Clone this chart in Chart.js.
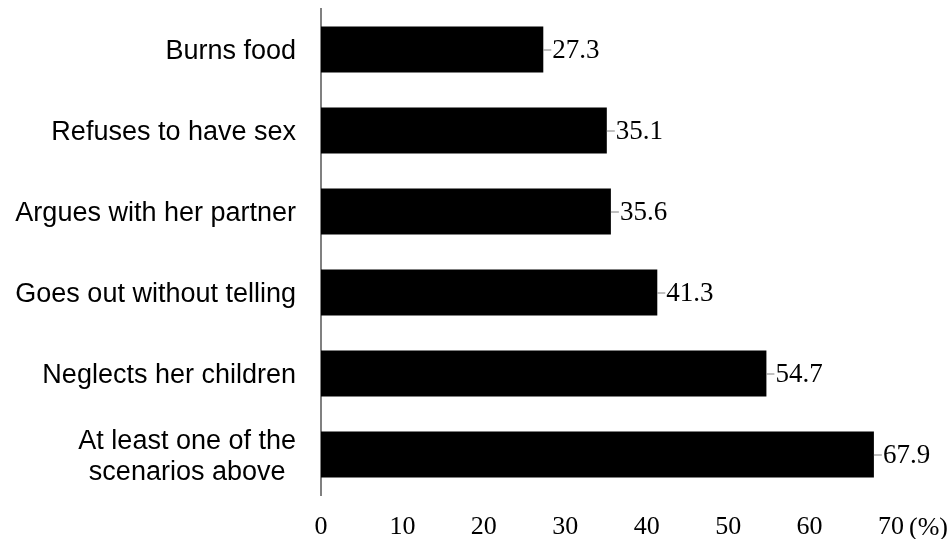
<!DOCTYPE html>
<html>
<head>
<meta charset="utf-8">
<script src="https://cdn.jsdelivr.net/npm/chart.js@4/dist/chart.umd.min.js"></script>
<style>
  html, body { margin: 0; padding: 0; background: #ffffff; }
  #wrap { width: 951px; height: 539px; }
</style>
</head>
<body>
<div id="wrap"><canvas id="c" width="951" height="539"></canvas></div>
<script>
const categories = [
  "Burns food",
  "Refuses to have sex",
  "Argues with her partner",
  "Goes out without telling",
  "Neglects her children",
  ["At least one of the", "scenarios above"]
];
const percentages = [27.3, 35.1, 35.6, 41.3, 54.7, 67.9];
const xTickValues = [0, 10, 20, 30, 40, 50, 60, 70];
const unitLabel = "(%)";

const yLabelPlugin = {
  id: 'yLabels',
  afterDraw(chart) {
    const ctx = chart.ctx;
    const ys = chart.scales.y;
    ctx.save();
    ctx.font = '27px "Liberation Sans", Arial, sans-serif';
    ctx.fillStyle = '#000000';
    ctx.textAlign = 'center';
    ctx.textBaseline = 'alphabetic';
    const rightEdge = 296;
    const lh = 31;
    const cap = 27 * 0.716;
    categories.forEach((lab, i) => {
      const lines = Array.isArray(lab) ? lab : [lab];
      const y = ys.getPixelForValue(i);
      const maxW = Math.max(...lines.map(l => ctx.measureText(l).width));
      const cx = rightEdge - maxW / 2;
      lines.forEach((l, j) => {
        const by = y + cap / 2 + (j - (lines.length - 1) / 2) * lh;
        ctx.fillText(l, cx, by);
      });
    });
    // unit label after last x tick
    const xs = chart.scales.x;
    ctx.font = '26px "Liberation Serif", "Times New Roman", serif';
    ctx.textAlign = 'left';
    ctx.textBaseline = 'middle';
    const last = xTickValues[xTickValues.length - 1];
    const lastW = ctx.measureText(String(last)).width;
    ctx.fillText(unitLabel, xs.getPixelForValue(last) + lastW / 2 + 5, chart.chartArea.bottom + 33);
    ctx.restore();
  }
};

const valueLabelPlugin = {
  id: 'valueLabels',
  afterDatasetsDraw(chart) {
    const ctx = chart.ctx;
    const meta = chart.getDatasetMeta(0);
    ctx.save();
    ctx.font = '27px "Liberation Serif", "Times New Roman", serif';
    ctx.fillStyle = '#000000';
    ctx.textAlign = 'left';
    ctx.textBaseline = 'middle';
    meta.data.forEach((bar, i) => {
      const x = bar.x, y = bar.y;
      ctx.strokeStyle = '#808080';
      ctx.lineWidth = 1;
      ctx.beginPath();
      ctx.moveTo(x, y + 0.5);
      ctx.lineTo(x + 8, y + 0.5);
      ctx.stroke();
      ctx.fillText(percentages[i].toFixed(1), x + 9, y + 1);
    });
    ctx.restore();
  }
};

new Chart(document.getElementById('c'), {
  type: 'bar',
  data: {
    labels: categories,
    datasets: [{
      data: percentages,
      backgroundColor: '#000000',
      borderWidth: 0,
      barPercentage: 0.567,
      categoryPercentage: 1.0
    }]
  },
  options: {
    indexAxis: 'y',
    responsive: false,
    animation: false,
    devicePixelRatio: 1,
    layout: { padding: { left: 321, right: 60, top: 9, bottom: 0 } },
    plugins: { legend: { display: false }, tooltip: { enabled: false } },
    scales: {
      x: {
        min: 0, max: 70,
        afterBuildTicks(axis) { axis.ticks = xTickValues.map(v => ({ value: v })); },
        afterFit(axis) { axis.height = 44; },
        grid: { display: false, drawTicks: false },
        border: { display: false },
        ticks: {
          color: '#000000',
          padding: 17,
          font: { family: '"Liberation Serif", "Times New Roman", serif', size: 26 }
        }
      },
      y: {
        grid: { display: false, drawTicks: false },
        border: { display: true, color: '#808080', width: 2 },
        ticks: { display: false }
      }
    }
  },
  plugins: [yLabelPlugin, valueLabelPlugin]
});
</script>
</body>
</html>
